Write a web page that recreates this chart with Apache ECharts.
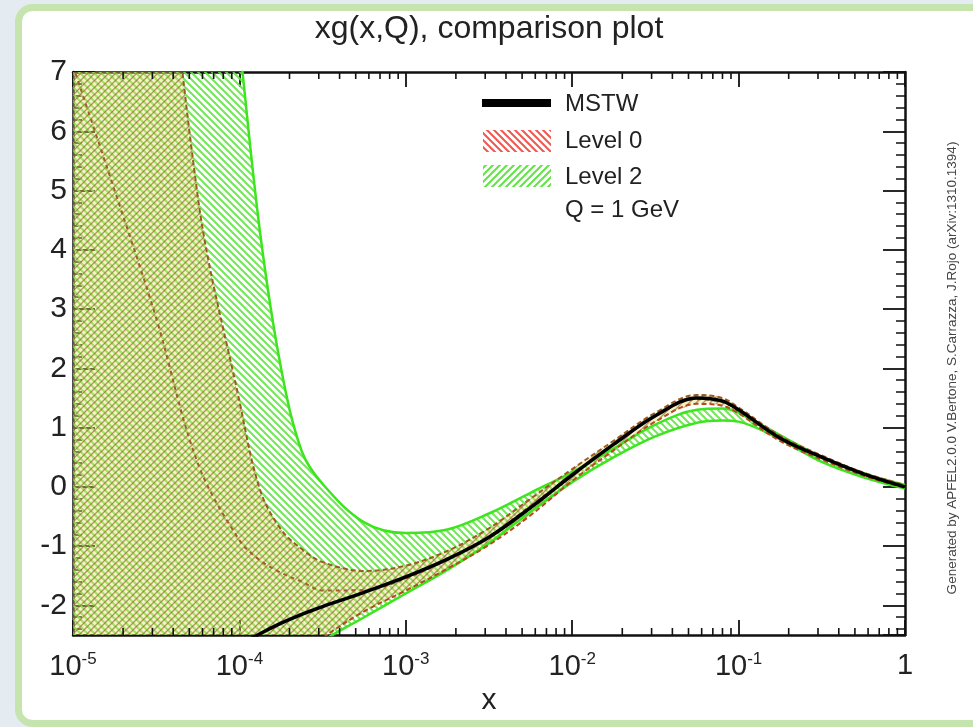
<!DOCTYPE html>
<html><head><meta charset="utf-8">
<script src="https://cdn.jsdelivr.net/npm/echarts@6/dist/echarts.min.js"></script>
<style>html,body{margin:0;padding:0;background:#e4ebf1;}#c{width:973px;height:727px;}</style>
</head><body><div id="c"></div>
<script>
// ---- data ----
const xValues = [1e-5, 1.78e-5, 3.16e-5, 5.62e-5, 1e-4, 1.33e-4, 1.78e-4, 2.37e-4, 3.16e-4, 5.62e-4,
  1e-3, 1.78e-3, 3.16e-3, 5.62e-3, 1e-2, 1.78e-2, 3.16e-2, 5.62e-2, 7.94e-2, 0.1, 0.178, 0.316, 0.562, 1];
const mstw = [-5.0, -4.3, -3.7, -3.15, -2.68, -2.48, -2.3, -2.15, -2.02, -1.78,
  -1.52, -1.22, -0.85, -0.35, 0.2, 0.72, 1.2, 1.5, 1.45, 1.3, 0.82, 0.5, 0.22, 0.0];
const level0Upper = [40, 25, 12, 4.9, 1.45, -0.05, -0.72, -1.05, -1.27, -1.42,
  -1.33, -1.08, -0.7, -0.2, 0.3, 0.78, 1.25, 1.55, 1.5, 1.34, 0.86, 0.53, 0.24, 0.03];
const level0Central = [7.1, 5.0, 2.85, 0.4, -0.9, -1.24, -1.45, -1.6, -1.75, -1.74,
  -1.55, -1.22, -0.84, -0.32, 0.2, 0.71, 1.19, 1.48, 1.43, 1.29, 0.82, 0.5, 0.22, 0.0];
const level0Lower = [-12, -9, -7, -5.5, -4.2, -3.6, -3.2, -2.85, -2.55, -2.1,
  -1.75, -1.38, -0.98, -0.48, 0.1, 0.62, 1.1, 1.4, 1.37, 1.24, 0.77, 0.46, 0.19, -0.02];
const level2Upper = [60, 40, 25, 14, 7.5, 4.3, 2.0, 0.6, 0.05, -0.6,
  -0.78, -0.72, -0.45, -0.1, 0.25, 0.65, 1.05, 1.3, 1.32, 1.25, 0.87, 0.5, 0.23, 0.03];
const level2Lower = [-9, -7.5, -6, -4.8, -3.6, -3.3, -3.1, -2.85, -2.6, -2.2,
  -1.8, -1.4, -0.95, -0.42, 0.08, 0.5, 0.85, 1.08, 1.12, 1.1, 0.8, 0.42, 0.16, -0.03];
const legendLabels = ['MSTW', 'Level 0', 'Level 2', 'Q = 1 GeV'];
const titleText = 'xg(x,Q), comparison plot';
const creditText = 'Generated by APFEL2.0.0 V.Bertone, S.Carrazza, J.Rojo (arXiv:1310.1394)';
const xMin = 1e-5, xMax = 1, yMin = -2.5, yMax = 7;

// ---- styling helpers ----
const FONT = '"Liberation Sans", Arial, Helvetica, sans-serif';
function hatch(color, lw, sp, dir, bg) {
  const c = document.createElement('canvas'); c.width = sp; c.height = sp;
  const g = c.getContext('2d');
  if (bg) { g.fillStyle = bg; g.fillRect(0, 0, sp, sp); }
  g.strokeStyle = color; g.lineWidth = lw; g.beginPath();
  if (dir === '/') {
    g.moveTo(-2, sp + 2); g.lineTo(sp + 2, -2);
    g.moveTo(-2, 2); g.lineTo(2, -2);
    g.moveTo(sp - 2, sp + 2); g.lineTo(sp + 2, sp - 2);
  } else {
    g.moveTo(-2, -2); g.lineTo(sp + 2, sp + 2);
    g.moveTo(sp - 2, -2); g.lineTo(sp + 2, 2);
    g.moveTo(-2, sp - 2); g.lineTo(2, sp + 2);
  }
  g.stroke();
  return { image: c, repeat: 'repeat' };
}
const greenHatch = hatch('rgba(100,228,70,0.9)', 2, 7, '\\');
const redHatch = hatch('rgba(150,95,40,0.62)', 1.4, 7, '/', 'rgba(225,220,110,0.38)');
const legendRed = hatch('rgba(235,70,60,0.9)', 2, 7, '\\');
const legendGreen = hatch('rgba(90,225,60,0.95)', 2, 7, '/');

function pairs(ys) { return xValues.map((x, i) => [x, ys[i]]); }

function band(name, upper, lower, fill, z) {
  return {
    name, type: 'custom', coordinateSystem: 'cartesian2d', silent: true, z,
    data: [[1e-3, 0]],
    renderItem(params, api) {
      const top = xValues.map((x, i) => api.coord([x, upper[i]]));
      const bot = xValues.map((x, i) => api.coord([x, lower[i]])).reverse();
      const cs = params.coordSys;
      return {
        type: 'group',
        clipPath: { type: 'rect', shape: { x: cs.x, y: cs.y, width: cs.width, height: cs.height } },
        children: [{ type: 'polygon', shape: { points: top.concat(bot), smooth: 0.35 }, style: { fill, stroke: null } }]
      };
    }
  };
}
function edge(ys, color, width, dash, z) {
  return {
    type: 'line', data: pairs(ys), smooth: 0.35, symbol: 'none', silent: true, z, clip: true,
    lineStyle: { color, width, type: dash || 'solid' }
  };
}
// minor tick positions of the log axis (2..9 times each decade)
const minorX = [];
for (let d = -5; d < 0; d++) for (let k = 2; k <= 9; k++) minorX.push(k * Math.pow(10, d));
const minorTicks = {
  type: 'custom', coordinateSystem: 'cartesian2d', silent: true, z: 20,
  data: minorX.map(x => [x, yMin]),
  renderItem(params, api) {
    const x = api.value(0);
    const b = api.coord([x, yMin]), t = api.coord([x, yMax]);
    const st = { stroke: '#111', lineWidth: 1.6 };
    return { type: 'group', children: [
      { type: 'line', shape: { x1: b[0], y1: b[1], x2: b[0], y2: b[1] - 7 }, style: st },
      { type: 'line', shape: { x1: t[0], y1: t[1], x2: t[0], y2: t[1] + 7 }, style: st }
    ] };
  }
};

const supLabel = v => {
  const e = Math.round(Math.log10(v));
  return e === 0 ? '{b|1}' : '{b|10}{s|' + e + '}';
};
const axisLineStyle = { show: true, onZero: false, lineStyle: { color: '#111', width: 2.5 } };

const chart = echarts.init(document.getElementById('c'), null, { renderer: 'canvas' });
chart.setOption({
  animation: false,
  backgroundColor: '#e4ebf1',
  grid: { left: 73, right: 68, top: 72, bottom: 92, containLabel: false },
  xAxis: [{
    type: 'log', logBase: 10, min: xMin, max: xMax, splitNumber: 5, position: 'bottom',
    name: 'x', nameLocation: 'middle', nameGap: 47,
    nameTextStyle: { fontSize: 30, color: '#222', fontFamily: FONT },
    axisLine: axisLineStyle, splitLine: { show: false },
    axisTick: { show: true, inside: true, length: 15, lineStyle: { color: '#111', width: 1.8 } },
    axisLabel: { margin: 16, formatter: supLabel, rich: {
      b: { fontSize: 29, color: '#222', fontFamily: FONT },
      s: { fontSize: 17, color: '#222', fontFamily: FONT, padding: [0, 0, 14, 0] } } }
  }, {
    type: 'log', logBase: 10, min: xMin, max: xMax, splitNumber: 5, position: 'top',
    axisLine: axisLineStyle, splitLine: { show: false }, axisLabel: { show: false },
    axisTick: { show: true, inside: true, length: 15, lineStyle: { color: '#111', width: 1.8 } }
  }],
  yAxis: [{
    type: 'value', min: yMin, max: yMax, splitNumber: 9, position: 'left',
    axisLine: axisLineStyle, splitLine: { show: false },
    axisTick: { show: true, inside: true, length: 22, lineStyle: { color: '#111', width: 1.8 } },
    minorTick: { show: true, splitNumber: 5, length: 9, lineStyle: { color: '#111', width: 1.5 } },
    axisLabel: { showMinLabel: false, margin: 6, padding: [8, 0, 0, 0], fontSize: 30, color: '#222', fontFamily: FONT }
  }, {
    type: 'value', min: yMin, max: yMax, splitNumber: 9, position: 'right',
    axisLine: axisLineStyle, splitLine: { show: false }, axisLabel: { show: false },
    axisTick: { show: true, inside: true, length: 22, lineStyle: { color: '#111', width: 1.8 } },
    minorTick: { show: true, splitNumber: 5, length: 9, lineStyle: { color: '#111', width: 1.5 } }
  }],
  graphic: [
    { type: 'rect', z: -10, silent: true, shape: { x: 18.5, y: 7.5, width: 990, height: 716, r: 14 },
      style: { fill: '#ffffff', stroke: '#c6e5ae', lineWidth: 7 } },
    { type: 'text', x: 489, y: 29, silent: true, style: { text: titleText, fontSize: 32, fill: '#222',
      fontFamily: FONT, align: 'center', verticalAlign: 'middle' } },
    { type: 'text', x: 952, y: 368, rotation: Math.PI / 2, silent: true, style: { text: creditText,
      fontSize: 13.5, fill: '#444', fontFamily: FONT, align: 'center', verticalAlign: 'middle' } },
    { type: 'rect', silent: true, z: 30, shape: { x: 482, y: 99, width: 69, height: 8 }, style: { fill: '#000' } },
    { type: 'rect', silent: true, z: 30, shape: { x: 483, y: 130, width: 68, height: 22 }, style: { fill: legendRed } },
    { type: 'rect', silent: true, z: 30, shape: { x: 483, y: 165, width: 68, height: 22 }, style: { fill: legendGreen } },
    { type: 'text', z: 30, x: 565, y: 104, silent: true, style: { text: legendLabels[0], fontSize: 24, fill: '#222', fontFamily: FONT, verticalAlign: 'middle' } },
    { type: 'text', z: 30, x: 565, y: 141, silent: true, style: { text: legendLabels[1], fontSize: 24, fill: '#222', fontFamily: FONT, verticalAlign: 'middle' } },
    { type: 'text', z: 30, x: 565, y: 177, silent: true, style: { text: legendLabels[2], fontSize: 24, fill: '#222', fontFamily: FONT, verticalAlign: 'middle' } },
    { type: 'text', z: 30, x: 565, y: 210, silent: true, style: { text: legendLabels[3], fontSize: 24, fill: '#222', fontFamily: FONT, verticalAlign: 'middle' } }
  ],
  series: [
    band('Level 2', level2Upper, level2Lower, greenHatch, 2),
    band('Level 0', level0Upper, level0Lower, redHatch, 3),
    edge(level2Upper, '#3de51f', 2.5, null, 5),
    edge(level2Lower, '#3de51f', 2.5, null, 5),
    edge(level0Upper, '#9a5a22', 2, [5, 3], 6),
    edge(level0Lower, '#b34a22', 2, [5, 3], 6),
    edge(level0Central, '#a0602a', 2, [4, 4], 6),
    edge(mstw, '#000000', 3.5, null, 7),
    minorTicks
  ]
});
</script></body></html>
